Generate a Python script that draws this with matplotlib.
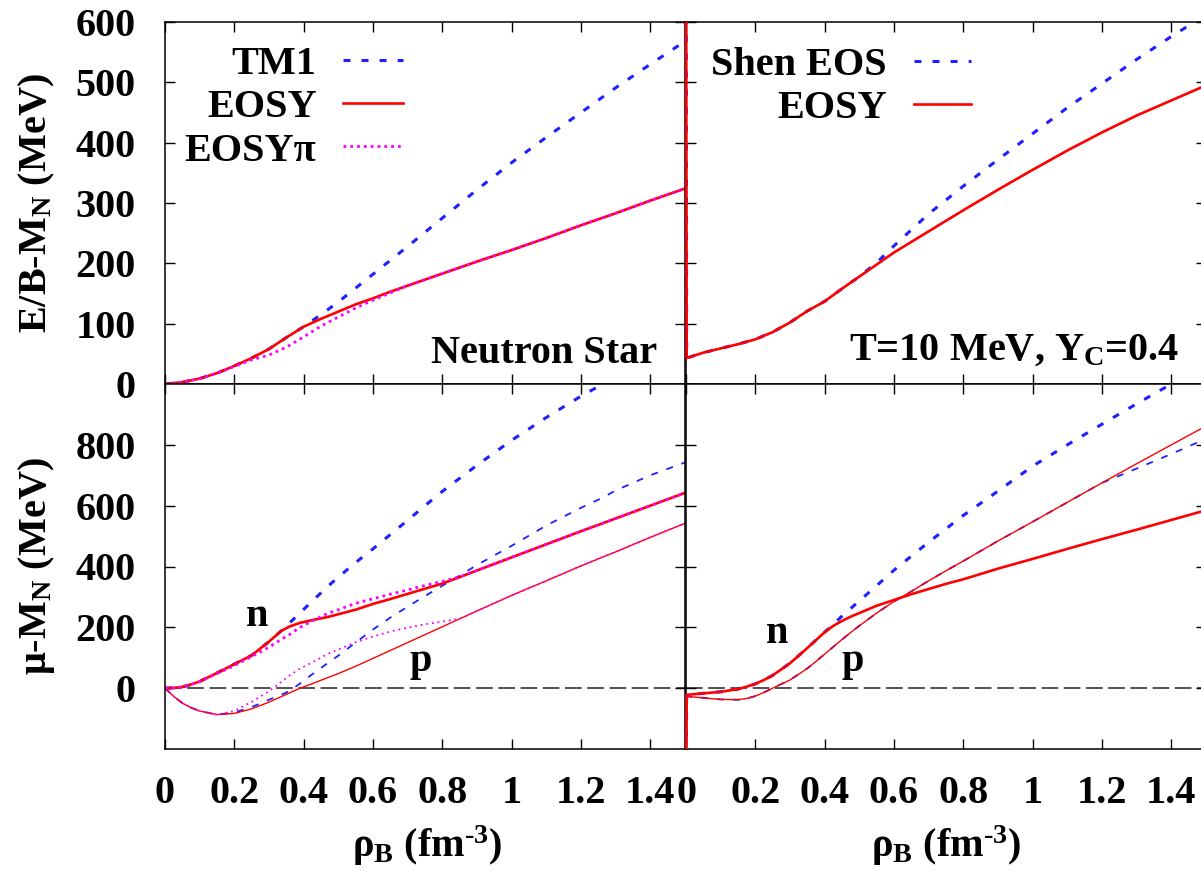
import matplotlib
matplotlib.use("Agg")
import matplotlib.pyplot as plt
from matplotlib.transforms import Bbox, TransformedBbox

# ---- data ---------------------------------------------------------------
# neutron star matter, E/B - M_N (MeV)
rho_ns_e = [0, 0.05, 0.1, 0.15, 0.2, 0.25, 0.3, 0.35, 0.4, 0.45, 0.5, 0.55,
            0.6, 0.65, 0.7, 0.8, 0.9, 1.0, 1.1, 1.2, 1.3, 1.4, 1.5]
eb_tm1 = [0, 3, 9, 18, 30, 43, 58, 77, 95, 115, 136, 159,
          182, 205, 228, 275, 322, 367, 409, 450, 491, 530, 568]
eb_eosy = [0, 3, 9, 18, 30, 43, 58, 77, 95, 108, 120, 132,
           142, 153, 163, 183, 203, 222, 242, 263, 283, 304, 324]
eb_eosypi = [0, 3, 9, 18, 29, 40, 48, 61, 78, 96, 111, 126,
             139, 151, 163, 183, 203, 222, 242, 263, 283, 304, 324]

# T = 10 MeV, Y_C = 0.4, E/B - M_N (MeV)
rho_hot_e = [0, 0.002, 0.05, 0.1, 0.15, 0.2, 0.25, 0.3, 0.35, 0.4, 0.45, 0.5,
             0.55, 0.6, 0.7, 0.8, 0.9, 1.0, 1.1, 1.2, 1.3, 1.4, 1.5]
eb_hot_shen = [900, 43, 52, 59, 66, 74, 86, 102, 121, 137, 158, 178,
               201, 229, 282, 328, 372, 415, 458, 498, 538, 576, 612]
eb_hot_eosy = [900, 43, 52, 59, 66, 74, 86, 102, 121, 137, 158, 178,
               198, 218, 253, 288, 322, 355, 387, 417, 445, 470, 495]

# neutron star matter, mu - M_N (MeV)
rho_ns_mu = [0, 0.025, 0.05, 0.075, 0.1, 0.15, 0.2, 0.25, 0.3, 0.335, 0.36,
             0.39, 0.43, 0.47, 0.5, 0.55, 0.6, 0.65, 0.7, 0.75, 0.8, 0.85,
             0.9, 1.0, 1.1, 1.2, 1.26, 1.3, 1.4, 1.5]
mun_tm1 = [0, 1, 4, 12, 22, 50, 79, 108, 153, 188, 215,
           248, 292, 335, 365, 413, 458, 505, 552, 600, 647, 690,
           733, 815, 890, 960, 998, 1024, 1085, 1145]
mup_tm1 = [0, -27, -49, -64, -75, -87, -80, -62, -38, -22, -9,
           16, 50, 83, 107, 150, 193, 232, 268, 303, 337, 370,
           405, 468, 535, 593, 625, 650, 700, 742]
mun_eosy = [0, 1, 4, 12, 22, 50, 79, 108, 153, 188, 203,
            215, 225, 234, 243, 258, 277, 293, 310, 327, 344, 365,
            387, 430, 473, 516, 541, 558, 600, 642]
mup_eosy = [0, -27, -49, -64, -75, -87, -83, -68, -46, -28, -15,
            0, 17, 35, 48, 72, 98, 124, 150, 176, 202, 228,
            254, 305, 353, 402, 430, 448, 496, 542]
mun_eosypi = [0, 1, 4, 12, 22, 48, 74, 104, 135, 160, 177,
              200, 224, 246, 258, 279, 294, 309, 323, 338, 351, 366,
              387, 430, 473, 516, 541, 558, 600, 642]
mup_eosypi = [0, -27, -49, -64, -75, -87, -75, -45, -10, 20, 42,
              65, 88, 113, 127, 151, 170, 186, 199, 210, 219, 228,
              254, 305, 353, 402, 430, 448, 496, 542]

# T = 10 MeV, Y_C = 0.4, mu - M_N (MeV)
rho_hot_mu = [0, 0.002, 0.05, 0.1, 0.15, 0.175, 0.2, 0.225, 0.25, 0.3, 0.35,
              0.375, 0.4, 0.425, 0.45, 0.475, 0.5, 0.55, 0.6, 0.65, 0.7, 0.75,
              0.8, 0.9, 1.0, 1.1, 1.2, 1.3, 1.4, 1.5]
mun_hot_shen = [-400, -22, -17, -12, -3, 5, 14, 27, 42, 82, 132,
                158, 184, 210, 237, 262, 287, 337, 388, 434, 480, 524,
                568, 648, 730, 800, 868, 935, 1000, 1060]
mup_hot_shen = [-400, -27, -32, -37, -38, -34, -26, -14, 0, 27, 65,
                88, 112, 136, 160, 183, 205, 247, 285, 318, 353, 386,
                418, 484, 547, 611, 675, 722, 770, 820]
mun_hot_eosy = [-400, -22, -17, -12, -3, 5, 14, 27, 42, 82, 132,
                158, 184, 205, 221, 235, 247, 271, 290, 309, 326, 343,
                358, 393, 425, 458, 490, 521, 553, 585]
mup_hot_eosy = [-400, -27, -32, -37, -38, -34, -26, -14, 0, 27, 65,
                88, 112, 136, 160, 183, 205, 247, 285, 318, 353, 386,
                418, 484, 547, 611, 675, 738, 800, 862]

x_ticks = [0, 0.2, 0.4, 0.6, 0.8, 1.0, 1.2, 1.4]
x_ticklabels = ["0", "0.2", "0.4", "0.6", "0.8", "1", "1.2", "1.4"]
e_ticks = [0, 100, 200, 300, 400, 500, 600]
mu_ticks = [0, 200, 400, 600, 800]

# ---- style ----------------------------------------------------------------
plt.rcParams["font.family"] = ["Liberation Serif", "DejaVu Serif"]
plt.rcParams["font.weight"] = "bold"
plt.rcParams["font.size"] = 29
plt.rcParams["mathtext.fontset"] = "custom"
plt.rcParams["mathtext.rm"] = "Liberation Serif"
plt.rcParams["mathtext.it"] = "Liberation Serif:italic"
plt.rcParams["mathtext.bf"] = "Liberation Serif:bold"
plt.rcParams["lines.scale_dashes"] = False
plt.rcParams["axes.linewidth"] = 1.1

BLUE, RED, MAG = "#1f1fff", "#ff0000", "#ff00ff"
blue_thick = dict(color=BLUE, lw=2.2, ls=(0, (5, 8)))
blue_thin = dict(color=BLUE, lw=1.3, ls=(0, (5, 6.5)))
red_thick = dict(color=RED, lw=1.9)
red_thin = dict(color=RED, lw=1.0)
mag_thick = dict(color=MAG, lw=2.0, ls=(0, (2, 2.9)))
mag_thin = dict(color=MAG, lw=1.3, ls=(0, (1.3, 2.8)))
zero_line = dict(color="#222222", lw=1.1, ls=(0, (12, 4)), zorder=1)

W, H = 1201, 882


def box(left, top, right, bottom):
    """Pixel box -> figure fraction rect."""
    return [left / W, 1 - bottom / H, (right - left) / W, (bottom - top) / H]


fig = plt.figure(figsize=(W / 100, H / 100), dpi=100, facecolor="white")
ax_tl = fig.add_axes(box(165, 22, 685, 384))
ax_tr = fig.add_axes(box(686, 22, 1206, 384))
ax_bl = fig.add_axes(box(165, 384, 685, 749))
ax_br = fig.add_axes(box(686, 384, 1206, 749))

for ax in (ax_tl, ax_tr, ax_bl, ax_br):
    ax.set_xlim(0, 1.5)
    ax.set_xticks(x_ticks)
    ax.tick_params(direction="in", length=7, width=1.0, top=True, right=True)
    ax.tick_params(axis="x", pad=19)
    ax.tick_params(axis="y", pad=21)

for ax in (ax_tl, ax_tr):
    ax.set_ylim(0, 600)
    ax.set_yticks(e_ticks)
    ax.set_xticklabels([])
for ax in (ax_bl, ax_br):
    ax.set_ylim(-200, 1000)
    ax.set_yticks(mu_ticks)
    ax.set_xticklabels(x_ticklabels)
    ax.axhline(0, **zero_line)
for ax in (ax_tr, ax_br):
    ax.set_yticklabels([])

# ---- neutron star, energy per baryon ---------------------------------------
ax_tl.plot(rho_ns_e, eb_tm1, label="TM1", **blue_thick)
ax_tl.plot(rho_ns_e, eb_eosy, label="EOSY", **red_thick)
ax_tl.plot(rho_ns_e, eb_eosypi, label="EOSYπ", **mag_thick)
ax_tl.legend(loc="upper left", bbox_to_anchor=(0.038, 0.934), markerfirst=False,
             frameon=False, handlelength=1.5, handletextpad=0.65,
             labelspacing=0.15, borderpad=0, borderaxespad=0)
ax_tl.text(1.42, 35, "Neutron Star", ha="right", va="baseline")

# ---- hot matter, energy per baryon -----------------------------------------
hot_lines = []
hot_lines += ax_tr.plot(rho_hot_e, eb_hot_shen, label="Shen EOS", **blue_thick)
hot_lines += ax_tr.plot(rho_hot_e, eb_hot_eosy, label="EOSY", **red_thick)
ax_tr.legend(loc="upper left", bbox_to_anchor=(0.048, 0.931), markerfirst=False,
             frameon=False, handlelength=1.42, handletextpad=0.67,
             labelspacing=0.15, borderpad=0, borderaxespad=0)
ax_tr.text(1.424, 40, r"T=10 MeV, Y$_\mathrm{C}$=0.4", ha="right", va="baseline")

# ---- neutron star, chemical potentials -------------------------------------
ax_bl.plot(rho_ns_mu, mun_tm1, **blue_thick)
ax_bl.plot(rho_ns_mu, mup_tm1, **blue_thin)
ax_bl.plot(rho_ns_mu, mun_eosy, **red_thick)
ax_bl.plot(rho_ns_mu, mup_eosy, **red_thin)
ax_bl.plot(rho_ns_mu, mun_eosypi, **mag_thick)
ax_bl.plot(rho_ns_mu, mup_eosypi, **mag_thin)
ax_bl.text(0.267, 206, "n", ha="center", va="baseline")
ax_bl.text(0.737, 55, "p", ha="center", va="baseline")

# ---- hot matter, chemical potentials ---------------------------------------
hot_lines += ax_br.plot(rho_hot_mu, mun_hot_shen, **blue_thick)
hot_lines += ax_br.plot(rho_hot_mu, mup_hot_shen, **blue_thin)
hot_lines += ax_br.plot(rho_hot_mu, mun_hot_eosy, **red_thick)
hot_lines += ax_br.plot(rho_hot_mu, mup_hot_eosy, **red_thin)
ax_br.text(0.264, 149, "n", ha="center", va="baseline")
ax_br.text(0.481, 58, "p", ha="center", va="baseline")

# the rho->0 divergence runs along the shared border; let it show there
for ln in hot_lines:
    ln.set_clip_path(None)
    ln.set_clip_box(TransformedBbox(Bbox.from_extents(-0.01, 0, 1, 1),
                                    ln.axes.transAxes))
    ln.set_zorder(3)

# ---- axis labels -------------------------------------------------------------
fig.text(37 / W, 1 - 203 / H, r"E/B-M$_\mathrm{N}$ (MeV)", rotation=90,
         ha="center", va="center")
fig.text(37 / W, 1 - 566 / H, r"μ-M$_\mathrm{N}$ (MeV)", rotation=90,
         ha="center", va="center")
for xc in (427, 946):
    fig.text(xc / W, 1 - 846 / H, r"ρ$_\mathbf{B}$ (fm$^{\mathbf{‐3}}$)",
             ha="center", va="center")

fig.savefig("out.png", dpi=100, facecolor="white")
